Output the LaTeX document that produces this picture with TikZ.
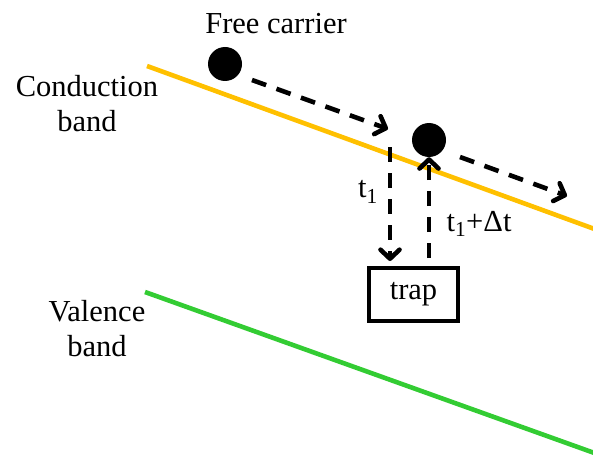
\documentclass[tikz,border=0pt]{standalone}
\usepackage{fontspec}
\setmainfont{Liberation Serif}
\usetikzlibrary{arrows.meta}
\definecolor{cband}{RGB}{255,192,0}
\definecolor{vband}{RGB}{51,204,51}
\tikzset{
  band/.style={line width=4.6pt},
  carrier/.style={circle, fill=black, minimum size=34pt, inner sep=0pt},
  darrow/.style={line width=4.6pt, dash pattern=on 15pt off 11pt, -{Straight Barb[length=9pt,width=19pt,line width=4.6pt,round]}},
  lbl/.style={font=\fontsize{30.5}{35}\selectfont, inner sep=0pt, align=center},
  trapbox/.style={draw, line width=4.6pt, minimum width=89pt, minimum height=53pt, inner sep=0pt, font=\fontsize{30.5}{35}\selectfont}
}
\begin{document}
\begin{tikzpicture}[x=1pt,y=-1pt]
\useasboundingbox (0,0) rectangle (593,457);
\coordinate (cbA) at (147,66);
\coordinate (cbB) at (600,231);
\coordinate (vbA) at (145,292);
\coordinate (vbB) at (600,455);
\draw[band, cband] (cbA) -- (cbB);
\draw[band, vband] (vbA) -- (vbB);
\node[lbl] (fc) at (276,24) {Free carrier};
\node[lbl] (cb) at (87,104) {Conduction\\band};
\node[lbl] (vb) at (97,329) {Valence\\band};
\node[carrier] (c1) at (225,64) {};
\node[carrier] (c2) at (429,140) {};
\node[trapbox] (trap) at (413.5,294.5) {trap};
\coordinate (a1s) at (252,80);
\coordinate (a1e) at (388,129);
\coordinate (a2s) at (460,157);
\coordinate (a2e) at (567,196);
\coordinate (dn) at (390,147);
\coordinate (dne) at (390,261);
\coordinate (up) at (429,258);
\draw[darrow] (a1s) -- (a1e);
\draw[darrow] (a2s) -- (a2e);
\draw[darrow] (dn) -- (dne);
\draw[darrow] (up) -- (c2.south);
\node[lbl] (t1) at (368,192) {t\textsubscript{1}};
\node[lbl] (t2) at (479,224) {t\textsubscript{1}+Δt};
\end{tikzpicture}
\end{document}
